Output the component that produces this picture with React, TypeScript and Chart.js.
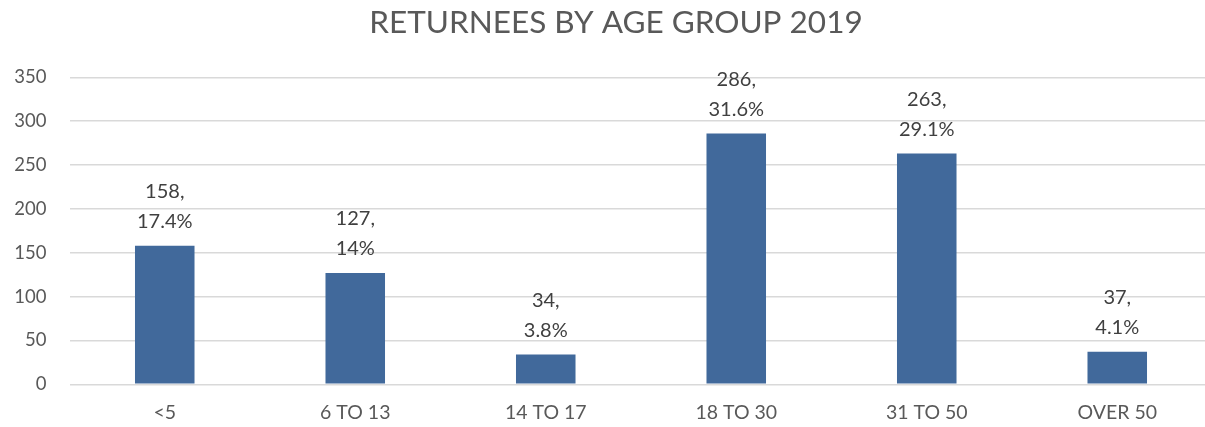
import React, { useEffect, useRef } from "react";
import { Chart, registerables } from "chart.js";

Chart.register(...registerables);

const TITLE = "RETURNEES BY AGE GROUP 2019";
const categories = ["<5", "6 TO 13", "14 TO 17", "18 TO 30", "31 TO 50", "OVER 50"];
const counts = [158, 127, 34, 286, 263, 37];
const percents = ["17.4%", "14%", "3.8%", "31.6%", "29.1%", "4.1%"];
const yTicks = [0, 50, 100, 150, 200, 250, 300, 350];

const FONT = "Lato, 'Open Sans', sans-serif";
const TEXT = "#595959";
const LABEL = "#404040";
const BAR = "#41699b";
const GRID = "#d9d9d9";

const CW = 1220;
const CH = 427;

export default function App() {
  const ref = useRef<HTMLCanvasElement | null>(null);
  useEffect(() => {
    if (!ref.current) return;
    const labelPlugin = {
      id: "barLabels",
      afterDatasetsDraw(chart: any) {
        const ctx = chart.ctx;
        const meta = chart.getDatasetMeta(0);
        ctx.save();
        ctx.fillStyle = LABEL;
        ctx.font = `20px ${FONT}`;
        ctx.textAlign = "center";
        ctx.textBaseline = "middle";
        meta.data.forEach((bar: any, i: number) => {
          ctx.fillText(`${counts[i]},`, bar.x, bar.y - 54);
          ctx.fillText(percents[i], bar.x, bar.y - 24);
        });
        ctx.restore();
      },
    };
    const titlePlugin = {
      id: "customTitle",
      afterDraw(chart: any) {
        const ctx = chart.ctx;
        ctx.save();
        ctx.fillStyle = TEXT;
        ctx.font = `31.5px ${FONT}`;
        ctx.textAlign = "center";
        ctx.textBaseline = "middle";
        ctx.fillText(TITLE, 616, 23);
        ctx.restore();
      },
    };
    const chart = new Chart(ref.current, {
      type: "bar",
      data: {
        labels: categories,
        datasets: [
          {
            data: counts,
            backgroundColor: BAR,
            borderWidth: 0,
            categoryPercentage: 0.3125,
            barPercentage: 1,
          },
        ],
      },
      options: {
        responsive: false,
        animation: false,
        layout: { padding: { top: 77.3, right: CW - 1212.5, left: 0, bottom: 0 } },
        plugins: { legend: { display: false }, title: { display: false }, tooltip: { enabled: false } },
        scales: {
          x: {
            grid: { display: false, drawTicks: false },
            border: { display: false },
            ticks: { color: TEXT, font: { family: FONT, size: 19.5 }, padding: 17 },
            afterFit(scale: any) {
              scale.height = CH - 384.3;
            },
          },
          y: {
            min: 0,
            max: 350,
            afterBuildTicks(scale: any) {
              scale.ticks = yTicks.map((v) => ({ value: v }));
            },
            grid: { color: GRID, lineWidth: 1.5, drawTicks: false },
            border: { display: false },
            ticks: { color: TEXT, font: { family: FONT, size: 18.5 }, padding: 23 },
            afterFit(scale: any) {
              scale.width = 69.5;
            },
          },
        },
      },
      plugins: [labelPlugin, titlePlugin],
    });
    return () => chart.destroy();
  }, []);
  return (
    <div style={{ position: "absolute", left: 0, top: 0, width: 1205, height: 427, overflow: "hidden", background: "#fff" }}>
      <canvas ref={ref} width={CW} height={CH} style={{ display: "block", width: CW, height: CH }} />
    </div>
  );
}
